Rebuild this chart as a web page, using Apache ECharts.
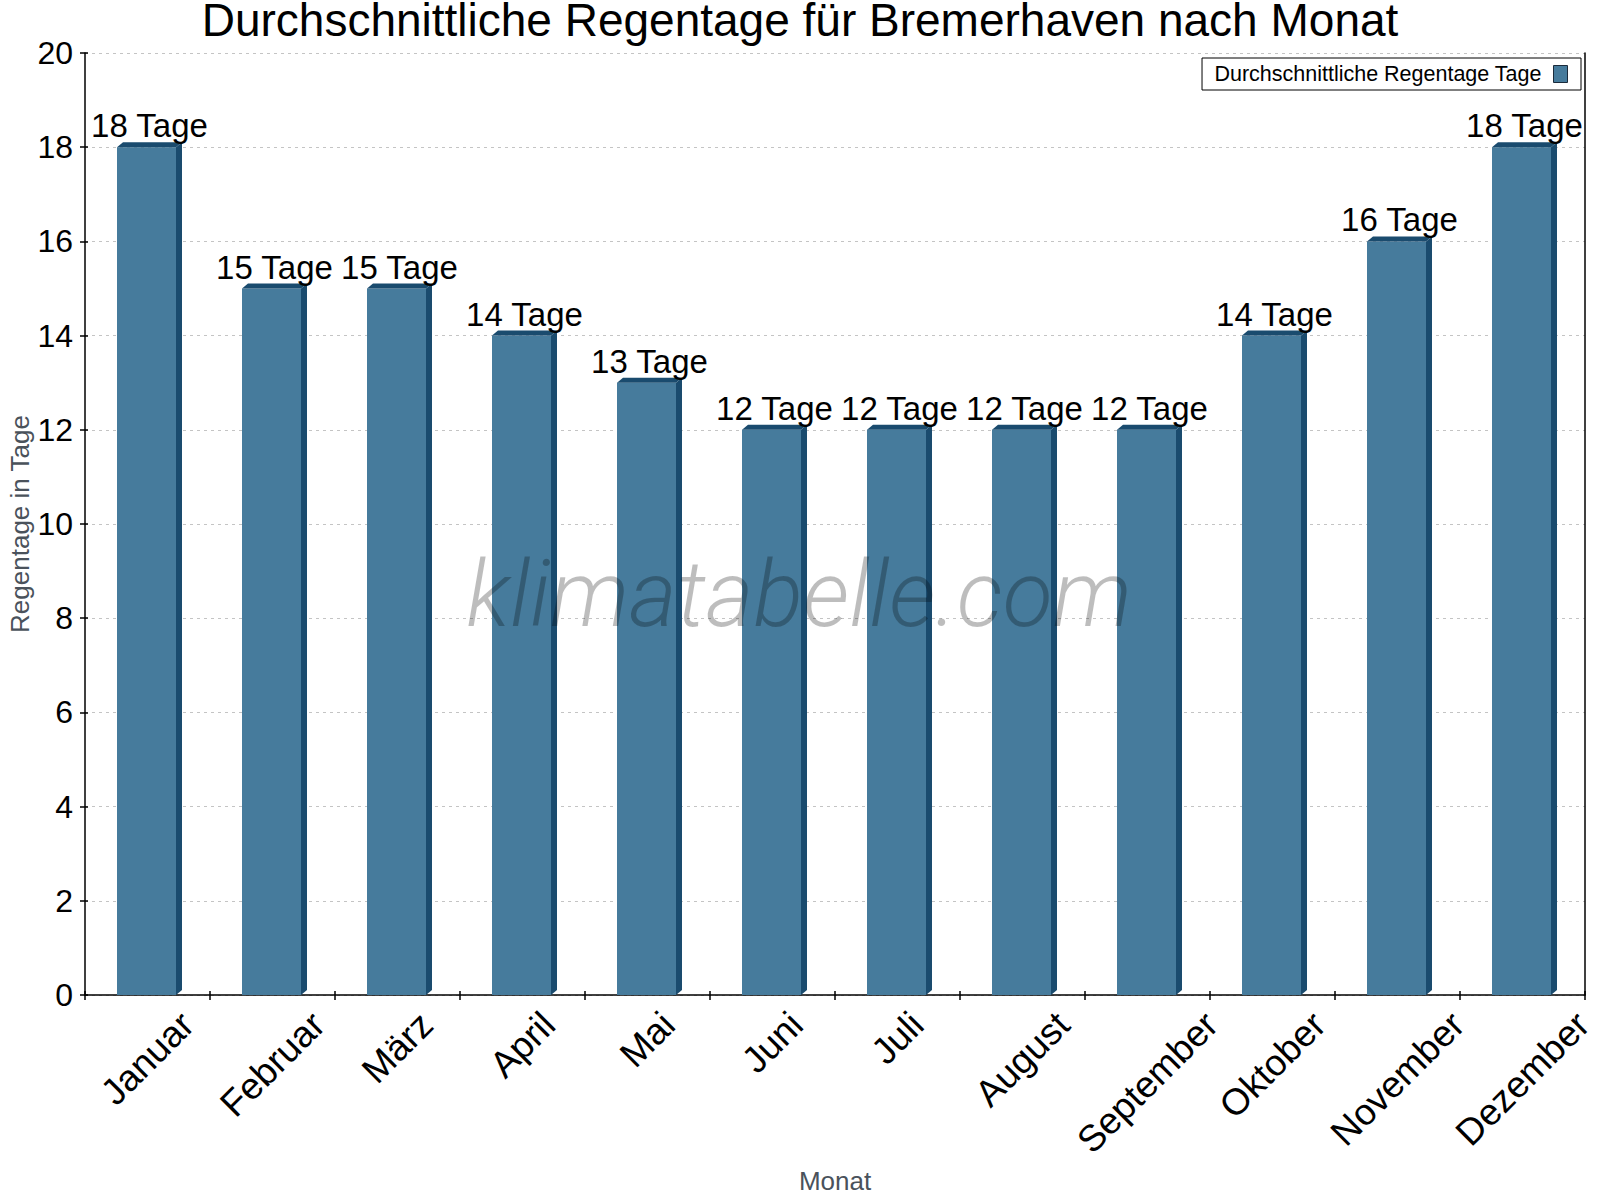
<!DOCTYPE html>
<html>
<head>
<meta charset="utf-8">
<title>Regentage Bremerhaven</title>
<script src="https://cdn.jsdelivr.net/npm/echarts@6/dist/echarts.min.js"></script>
<style>
  html, body { margin: 0; padding: 0; background: #ffffff; }
  #chart { width: 1600px; height: 1200px; }
</style>
</head>
<body>
<div id="chart"></div>
<script>
// Daten
const months = ["Januar", "Februar", "März", "April", "Mai", "Juni", "Juli", "August", "September", "Oktober", "November", "Dezember"];
const rainDays = [18, 15, 15, 14, 13, 12, 12, 12, 12, 14, 16, 18];
const yMin = 0;
const yMax = 20;
const yStep = 2;
const seriesName = "Durchschnittliche Regentage Tage";

const FONT = '"Liberation Sans", Arial, Helvetica, sans-serif';
const frontColor = "#467b9c";
const darkColor = "#1a4b6e";
const monthFontSize = 37;

// Breite der Monatsnamen messen (fuer zentrierte, um 45 Grad gedrehte Labels)
const ctx = document.createElement("canvas").getContext("2d");
ctx.font = monthFontSize + "px " + FONT;
const monthWidths = months.map(m => ctx.measureText(m).width);

const chart = echarts.init(document.getElementById("chart"), null, { renderer: "svg" });

function renderBar(params, api) {
  const idx = api.value(0);
  const top = api.coord([idx, api.value(1)]);
  const base = api.coord([idx, 0]);
  const band = api.size([1, 0])[0];
  const w = band * 0.472;
  const d = band * 0.048;
  const dy = 5;
  const x0 = top[0] - w / 2 - 1;
  const x1 = x0 + w;
  const L = monthWidths[idx];
  return {
    type: "group",
    children: [
      {
        type: "rect",
        shape: { x: x0, y: top[1], width: w, height: base[1] - top[1] },
        style: { fill: frontColor }
      },
      {
        type: "polygon",
        shape: { points: [[x1, top[1]], [x1 + d, top[1] - dy], [x1 + d, base[1] - dy], [x1, base[1]]] },
        style: { fill: darkColor }
      },
      {
        type: "polygon",
        shape: { points: [[x0, top[1]], [x0 + d, top[1] - dy], [x1 + d, top[1] - dy], [x1, top[1]]] },
        style: { fill: darkColor }
      },
      {
        type: "text",
        style: {
          text: api.value(1) + " Tage",
          x: top[0] + 2,
          y: top[1] - 5,
          align: "center",
          verticalAlign: "bottom",
          fontSize: 33,
          fontFamily: FONT,
          fill: "#000"
        }
      },
      {
        // Monatsname unter der Achse
        type: "text",
        x: base[0],
        y: base[1] + 23.5 + L / (2 * Math.SQRT2),
        rotation: Math.PI / 4,
        style: {
          text: months[idx],
          x: 0,
          y: 0,
          align: "center",
          verticalAlign: "middle",
          fontSize: monthFontSize,
          fontFamily: FONT,
          fill: "#000"
        }
      }
    ]
  };
}

const options = {
  backgroundColor: "#ffffff",
  animation: false,
  title: {
    text: "Durchschnittliche Regentage für Bremerhaven nach Monat",
    left: "center",
    top: 0,
    padding: 0,
    textStyle: { fontSize: 46, lineHeight: 40, fontWeight: "normal", color: "#000", fontFamily: FONT }
  },
  legend: {
    right: 19,
    top: 58,
    align: "right",
    padding: [5, 13, 5, 12],
    borderColor: "#000",
    borderWidth: 1,
    borderRadius: 0,
    backgroundColor: "#fff",
    itemWidth: 14,
    itemHeight: 17,
    textStyle: { fontSize: 21.5, color: "#000", fontFamily: FONT, padding: [0, 7, 0, 0] },
    data: [{
      name: seriesName,
      icon: "rect",
      itemStyle: { color: frontColor, borderColor: "#1b2b3b", borderWidth: 1 }
    }]
  },
  grid: {
    left: 85,
    right: 15,
    top: 53,
    bottom: 205,
    containLabel: false,
    outerBoundsMode: "none"
  },
  graphic: [{
    type: "text",
    z: 100,
    x: 799,
    y: 594,
    style: {
      text: "klimatabelle.com",
      align: "center",
      verticalAlign: "middle",
      fontSize: 92,
      fontStyle: "italic",
      fontWeight: 300,
      fontFamily: "Roboto, sans-serif",
      fill: "rgba(0,0,0,0.26)"
    }
  }],
  xAxis: [
    {
      type: "category",
      data: months,
      position: "bottom",
      name: "Monat",
      nameLocation: "middle",
      nameGap: 173,
      nameMoveOverlap: false,
      nameTextStyle: { fontSize: 26, color: "#4a525b", fontFamily: FONT },
      axisLine: { show: true, lineStyle: { color: "#000", width: 1.5 } },
      axisTick: { show: true, length: 5, lineStyle: { color: "#000", width: 1.5 } },
      axisLabel: { show: false },
      splitLine: { show: false }
    },
    {
      type: "category",
      data: months,
      position: "bottom",
      axisLine: { show: false },
      axisTick: { show: true, inside: true, length: 4, lineStyle: { color: "#000", width: 1.5 } },
      axisLabel: { show: false },
      splitLine: { show: false }
    }
  ],
  yAxis: [
    {
      type: "value",
      min: yMin,
      max: yMax,
      interval: yStep,
      position: "left",
      name: "Regentage in Tage",
      nameLocation: "middle",
      nameGap: 52,
      nameMoveOverlap: false,
      nameTextStyle: { fontSize: 26, color: "#4a525b", fontFamily: FONT },
      axisLine: { show: true, lineStyle: { color: "#000", width: 1.5 } },
      axisTick: { show: true, length: 5, lineStyle: { color: "#000", width: 1.5 } },
      axisLabel: { fontSize: 32, color: "#000", fontFamily: FONT, margin: 12 },
      splitLine: { show: true, lineStyle: { color: "#c4c4c4", type: [3, 4], width: 1 } }
    },
    {
      type: "value",
      min: yMin,
      max: yMax,
      interval: yStep,
      position: "right",
      axisLine: { show: true, lineStyle: { color: "#000", width: 1.5 } },
      axisTick: { show: false },
      axisLabel: { show: false },
      splitLine: { show: false }
    },
    {
      type: "value",
      min: yMin,
      max: yMax,
      interval: yStep,
      position: "left",
      axisLine: { show: false },
      axisTick: { show: true, inside: true, length: 3, lineStyle: { color: "#000", width: 1.5 } },
      axisLabel: { show: false },
      splitLine: { show: false }
    }
  ],
  series: [{
    name: seriesName,
    type: "custom",
    xAxisIndex: 0,
    yAxisIndex: 0,
    renderItem: renderBar,
    clip: false,
    itemStyle: { color: frontColor },
    encode: { x: 0, y: 1 },
    data: months.map((m, i) => [i, rainDays[i]])
  }]
};

chart.setOption(options);
</script>
</body>
</html>
